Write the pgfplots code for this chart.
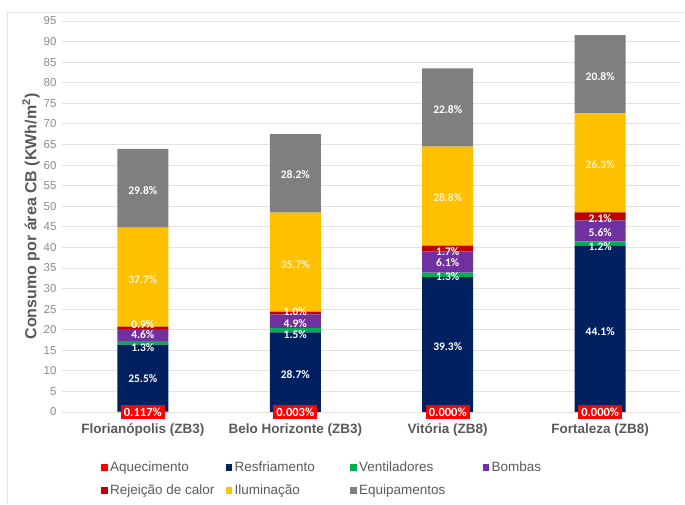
\documentclass[border=0pt]{standalone}
\usepackage{fontspec}
\setmainfont{Liberation Sans}
\newfontfamily\calibri{Carlito}
\usepackage{pgfplots}
\pgfplotsset{compat=1.18}
\definecolor{cAq}{HTML}{FF0000}
\definecolor{cRe}{HTML}{002060}
\definecolor{cVe}{HTML}{00B050}
\definecolor{cBo}{HTML}{7030A0}
\definecolor{cRj}{HTML}{C00000}
\definecolor{cIl}{HTML}{FFC000}
\definecolor{cEq}{HTML}{7F7F7F}
\definecolor{txt}{HTML}{595959}
\definecolor{tick}{HTML}{8C8C8C}
\definecolor{grd}{HTML}{E3E3E3}
\definecolor{ilt}{HTML}{FFF3D0}
\pgfplotsset{
  common/.style={scale only axis, width=619pt, height=391pt,
    xmin=-0.53, xmax=3.53, ymin=0, ymax=95,
    at={(62pt,92pt)}, anchor=south west},
  sq/.style={legend image code/.code={\draw[##1, draw=none] (0pt,-3.5pt) rectangle (6.5pt,3.5pt);}},
  lab/.style={draw=none, mark=none, nodes near coords={\pgfplotspointmeta\%},
    point meta=explicit symbolic,
    every node near coord/.append style={anchor=center, inner sep=0pt,
      font=\calibri\bfseries\fontsize{11.5}{12}\selectfont, text=#1}},
}
\begin{document}
\begin{tikzpicture}[x=1pt,y=1pt]
\path[use as bounding box] (0,0) rectangle (685,504);
\draw[grd, line width=0.8pt] (7,0) -- (7,492) -- (685,492);
\begin{axis}[common, ybar stacked, bar width=51pt,
  axis line style={draw=none}, tick style={draw=none},
  ymajorgrids, grid style={grd, line width=0.8pt},
  ytick={0,5,...,95},
  /pgf/number format/assume math mode=true,
  yticklabel style={font=\fontsize{11.5}{13}\selectfont, text=tick, xshift=-2pt},
  xtick={0,1,2,3},
  xticklabels={Florianópolis (ZB3), Belo Horizonte (ZB3), Vitória (ZB8), Fortaleza (ZB8)},
  xticklabel style={font=\bfseries\fontsize{13.5}{15}\selectfont, text=txt, yshift=-8pt},
  ylabel={Consumo por área CB (KWh/m\textsuperscript{2})},
  ylabel style={font=\bfseries\fontsize{16}{18}\selectfont, text=txt, yshift=-3pt},
  legend columns=4,
  legend style={at={(rel axis cs:0,0)}, anchor=north west, xshift=39pt, yshift=-48pt,
    draw=none, fill=none, inner sep=0pt,
    font=\fontsize{13.5}{15}\selectfont, text=txt,
    nodes={inner sep=1.5pt},
    /tikz/every odd column/.append style={column sep=1pt},
    row sep=9pt},
  legend cell align=left,
]
\addplot[fill=cAq, draw=none, sq] coordinates {(0,0.075) (1,0.002) (2,0.0) (3,0.0)};
\addlegendentry{\makebox[114pt][l]{Aquecimento}}
\addplot[fill=cRe, draw=none, sq] coordinates {(0,16.30) (1,19.37) (2,32.80) (3,40.35)};
\addlegendentry{\makebox[114pt][l]{Resfriamento}}
\addplot[fill=cVe, draw=none, sq] coordinates {(0,0.83) (1,1.01) (2,1.09) (3,1.10)};
\addlegendentry{\makebox[122pt][l]{Ventiladores}}
\addplot[fill=cBo, draw=none, sq] coordinates {(0,2.94) (1,3.31) (2,5.09) (3,5.12)};
\addlegendentry{Bombas}
\addplot[fill=cRj, draw=none, sq] coordinates {(0,0.58) (1,0.68) (2,1.42) (3,1.92)};
\addlegendentry{\makebox[114pt][l]{Rejeição de calor}}
\addplot[fill=cIl, draw=none, sq] coordinates {(0,24.10) (1,24.10) (2,24.05) (3,24.06)};
\addlegendentry{\makebox[114pt][l]{Iluminação}}
\addplot[fill=cEq, draw=none, sq] coordinates {(0,19.10) (1,19.04) (2,19.04) (3,19.03)};
\addlegendentry{\makebox[122pt][l]{Equipamentos}}
\end{axis}
\begin{axis}[common, hide axis]
\addplot[lab=white] table[meta=l] {
x y l
0 8.0 25.5
0 15.6 1.3
0 18.7 4.6
0 21.3 0.9
0 53.8 29.8
1 9.2 28.7
1 18.9 1.5
1 21.4 4.9
1 24.5 1.0
1 57.7 28.2
2 16.0 39.3
2 33.0 1.3
2 36.2 6.1
2 39.0 1.7
2 73.4 22.8
3 19.6 44.1
3 40.2 1.2
3 43.5 5.6
3 47.1 2.1
3 81.4 20.8
};
\addplot[lab=ilt] table[meta=l] {
x y l
0 32.2 37.7
1 35.9 35.7
2 52.0 28.8
3 60.0 26.3
};
\addplot[lab=white, every node near coord/.append style={fill=cAq, inner xsep=3pt, inner ysep=2.5pt, font=\calibri\bfseries\fontsize{12.5}{13}\selectfont}] table[meta=l] {
x y l
0 0 0.117
1 0 0.003
2 0 0.000
3 0 0.000
};
\end{axis}
\end{tikzpicture}
\end{document}
